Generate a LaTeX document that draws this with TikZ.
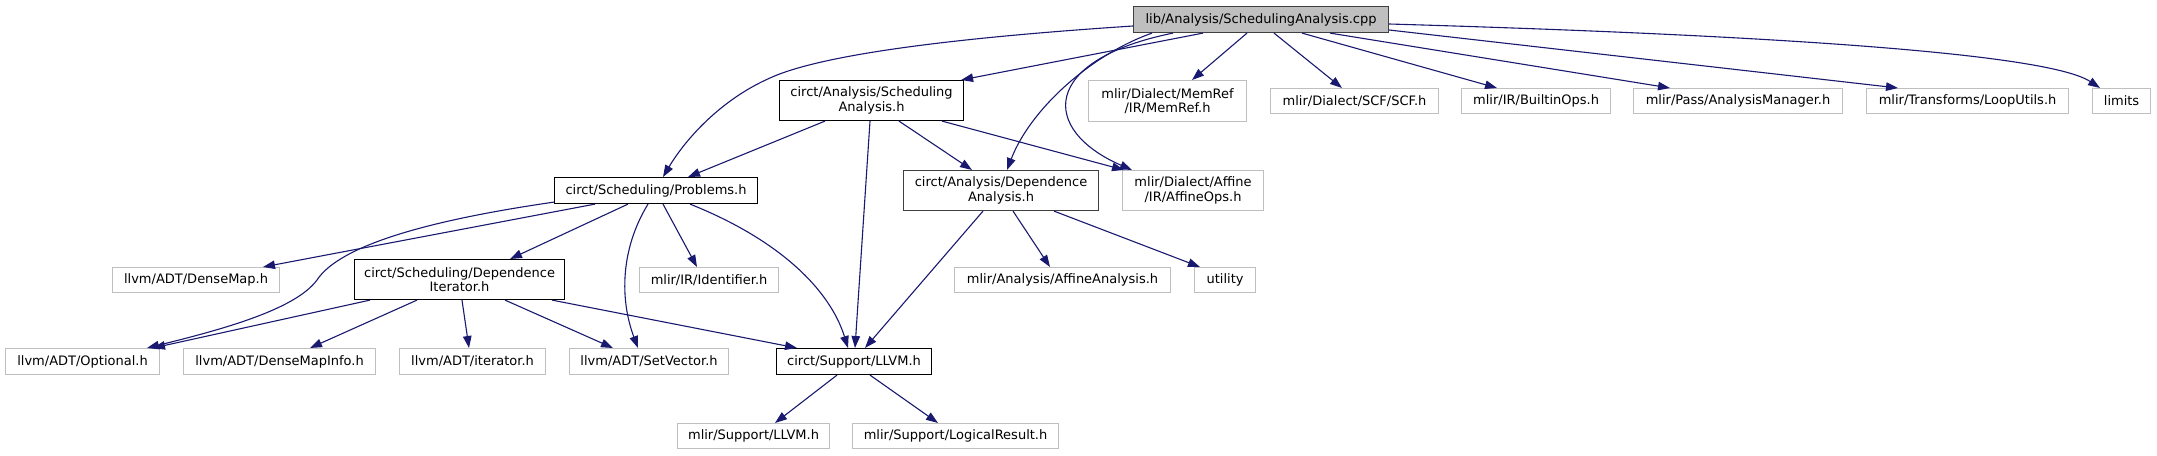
\documentclass[tikz,border=0pt]{standalone}
\usepackage{fontspec}
\setmainfont{DejaVu Sans}
\usetikzlibrary{arrows.meta, calc}
\definecolor{edgeblue}{HTML}{191970}
\definecolor{rootfill}{HTML}{BFBFBF}
\definecolor{dkgray}{HTML}{404040}
\definecolor{extgray}{HTML}{BFBFBF}

\begin{document}
\begin{tikzpicture}[
  x=1pt, y=-1pt,
  >={Triangle[length=12pt, width=8.5pt]},
  every node/.style={font=\fontsize{13}{14.5}\selectfont, anchor=north west, inner sep=0pt, align=center},
  rootfile/.style={draw=dkgray, fill=rootfill, line width=1.1pt},
  file/.style={draw=black, line width=1.1pt},
  filedk/.style={draw=dkgray, line width=1.1pt},
  ext/.style={draw=extgray, line width=1.1pt},
  dep/.style={draw=edgeblue, line width=1.1pt, ->},
]

% Background
\path[use as bounding box, fill=white] (0,0) rectangle (2157,455);

% ============ Nodes ============
\node[rootfile, minimum width=255pt, minimum height=26pt] (root) at (1133,6) {lib/Analysis/SchedulingAnalysis.cpp};

% second row
\node[file, minimum width=184pt, minimum height=40pt] (sa) at (779,80) {circt/Analysis/Scheduling\\Analysis.h};
\node[ext, minimum width=158pt, minimum height=41pt] (memref) at (1088,80) {mlir/Dialect/MemRef\\/IR/MemRef.h};
\node[ext, minimum width=168pt, minimum height=25pt] (scf) at (1270,88) {mlir/Dialect/SCF/SCF.h};
\node[ext, minimum width=149pt, minimum height=25pt] (builtin) at (1461,88) {mlir/IR/BuiltinOps.h};
\node[ext, minimum width=209pt, minimum height=25pt] (anamgr) at (1633,88) {mlir/Pass/AnalysisManager.h};
\node[ext, minimum width=202pt, minimum height=25pt] (looputils) at (1866,88) {mlir/Transforms/LoopUtils.h};
\node[ext, minimum width=58pt, minimum height=25pt] (limits) at (2092,88) {limits};

% third row
\node[file, minimum width=203pt, minimum height=26pt] (prob) at (554,177) {circt/Scheduling/Problems.h};
\node[filedk, minimum width=195pt, minimum height=40pt] (da) at (903,170) {circt/Analysis/Dependence\\Analysis.h};
\node[ext, minimum width=141pt, minimum height=40pt] (affops) at (1122,170) {mlir/Dialect/Affine\\/IR/AffineOps.h};

% fourth row
\node[ext, minimum width=167pt, minimum height=25pt] (densemap) at (112,267) {llvm/ADT/DenseMap.h};
\node[file, minimum width=210pt, minimum height=40pt] (di) at (354,259) {circt/Scheduling/Dependence\\Iterator.h};
\node[ext, minimum width=139pt, minimum height=25pt] (ident) at (639,267) {mlir/IR/Identifier.h};
\node[ext, minimum width=216pt, minimum height=25pt] (affana) at (954,267) {mlir/Analysis/AffineAnalysis.h};
\node[ext, minimum width=61pt, minimum height=25pt] (utility) at (1194,267) {utility};

% fifth row
\node[ext, minimum width=154pt, minimum height=26pt] (optional) at (5,348) {llvm/ADT/Optional.h};
\node[ext, minimum width=192pt, minimum height=26pt] (dmi) at (183,348) {llvm/ADT/DenseMapInfo.h};
\node[ext, minimum width=146pt, minimum height=26pt] (iter) at (399,348) {llvm/ADT/iterator.h};
\node[ext, minimum width=159pt, minimum height=26pt] (setvec) at (569,348) {llvm/ADT/SetVector.h};
\node[file, minimum width=155pt, minimum height=26pt] (sllvm) at (776,348) {circt/Support/LLVM.h};

% last row
\node[ext, minimum width=152pt, minimum height=25pt] (mllvm) at (677,423) {mlir/Support/LLVM.h};
\node[ext, minimum width=206pt, minimum height=25pt] (logres) at (852,423) {mlir/Support/LogicalResult.h};

% ============ Edges from the .cpp ============
\draw[dep] ($(root.north west)+(0,20)$) .. controls (950,38) and (820,55) .. (770,78) .. controls (720,100) and (685,140) .. ($(prob.north west)+(109,0)$);
\draw[dep] ($(root.south west)+(70,0)$) -- ($(sa.north east)+(-3,0)$);
\draw[dep] ($(root.south west)+(19,0)$) .. controls (1090,55) and (1030,110) .. ($(da.north west)+(104,0)$);
\draw[dep] ($(root.south west)+(40,0)$) .. controls (1040,60) and (1040,130) .. ($(affops.north west)+(10,0)$);
\draw[dep] ($(root.south west)+(114,0)$) -- ($(memref.north west)+(104,0)$);
\draw[dep] ($(root.south west)+(141,0)$) -- ($(scf.north west)+(72,0)$);
\draw[dep] ($(root.south west)+(169,0)$) -- ($(builtin.north west)+(36,0)$);
\draw[dep] ($(root.south west)+(197,0)$) -- ($(anamgr.north west)+(37,0)$);
\draw[dep] ($(root.north east)+(0,24)$) -- ($(looputils.north west)+(32,0)$);
\draw[dep] ($(root.north east)+(0,18)$) .. controls (1800,36) and (2050,55) .. ($(limits.north west)+(8,0)$);

% ============ Edges from SchedulingAnalysis.h ============
\draw[dep] ($(sa.south west)+(46,0)$) -- ($(prob.north west)+(134,0)$);
\draw[dep] ($(sa.south west)+(91,0)$) -- ($(sllvm.north west)+(79,0)$);
\draw[dep] ($(sa.south west)+(120,0)$) -- ($(da.north west)+(69,0)$);
\draw[dep] ($(sa.south west)+(163,0)$) -- ($(affops.north west)+(2,0)$);

% ============ Edges from Problems.h ============
\draw[dep] ($(prob.south west)+(41,0)$) -- ($(densemap.north west)+(151,0)$);
\draw[dep] ($(prob.south west)+(0,-2)$) .. controls (430,220) and (340,245) .. (317,280) .. controls (295,310) and (220,330) .. ($(optional.north west)+(142,0)$);
\draw[dep] ($(prob.south west)+(74,0)$) -- ($(di.north west)+(156,0)$);
\draw[dep] ($(prob.south west)+(94,0)$) .. controls (620,250) and (620,300) .. ($(setvec.north west)+(69,0)$);
\draw[dep] ($(prob.south west)+(109,0)$) -- ($(ident.north west)+(58,0)$);
\draw[dep] ($(prob.south west)+(136,0)$) .. controls (780,240) and (830,290) .. ($(sllvm.north west)+(72,0)$);

% ============ Edges from DependenceIterator.h ============
\draw[dep] ($(di.south west)+(16,0)$) -- ($(optional.north west)+(148,0)$);
\draw[dep] ($(di.south west)+(63,0)$) -- ($(dmi.north west)+(127,0)$);
\draw[dep] ($(di.south west)+(108,0)$) -- ($(iter.north west)+(70,0)$);
\draw[dep] ($(di.south west)+(151,0)$) -- ($(setvec.north west)+(44,0)$);
\draw[dep] ($(di.south west)+(198,0)$) -- ($(sllvm.north west)+(21,0)$);

% ============ Edges from DependenceAnalysis.h ============
\draw[dep] ($(da.south west)+(80,0)$) -- ($(sllvm.north west)+(89,0)$);
\draw[dep] ($(da.south west)+(110,0)$) -- ($(affana.north west)+(96,0)$);
\draw[dep] ($(da.south west)+(151,0)$) -- ($(utility.north west)+(6,0)$);

% ============ Edges from Support/LLVM.h ============
\draw[dep] ($(sllvm.south west)+(61,0)$) -- ($(mllvm.north west)+(98,0)$);
\draw[dep] ($(sllvm.south west)+(94,0)$) -- ($(logres.north west)+(86,0)$);

\end{tikzpicture}
\end{document}
